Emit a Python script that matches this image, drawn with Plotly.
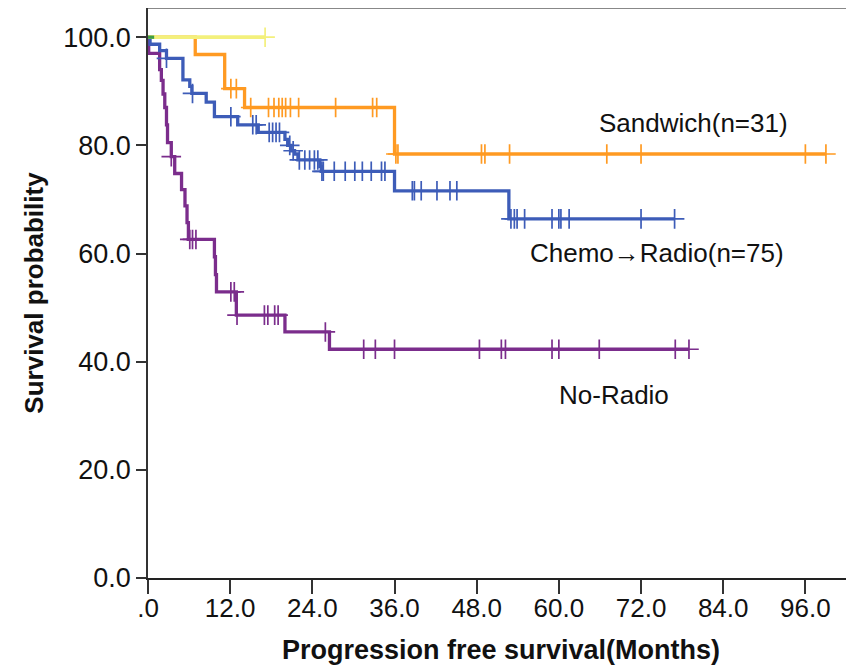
import numpy as np
import plotly.graph_objects as go

# ---------------- data ----------------
x_tick_vals = [0, 12, 24, 36, 48, 60, 72, 84, 96]
x_tick_text = [".0", "12.0", "24.0", "36.0", "48.0", "60.0", "72.0", "84.0", "96.0"]
y_tick_vals = [0, 20, 40, 60, 80, 100]
y_tick_text = ["0.0", "20.0", "40.0", "60.0", "80.0", "100.0"]

# Sandwich (orange)
sand_t = [0, 6.9, 11.2, 14.1, 36.0]
sand_s = [100, 96.8, 90.5, 87.0, 78.4]
sand_c = [12.1, 12.9, 15.0, 17.6, 18.4, 19.1, 19.6, 20.1, 20.8, 22.0, 27.4, 32.8,
          33.4, 36.2, 36.5, 48.7, 49.2, 52.8, 67.0, 72.0, 96.0, 99.0]

# Chemo -> Radio (blue)
chemo_t = [0, 0.3, 1.7, 2.7, 5.1, 6.1, 6.4, 8.5, 9.7, 13.1, 16.1, 20.0, 20.4, 20.9,
           21.4, 21.9, 25.1, 25.3, 36.0, 52.7]
chemo_s = [100, 98.7, 97.5, 96.1, 92.1, 90.9, 89.6, 88.0, 85.3, 83.8, 82.4, 81.1,
           80.0, 79.0, 78.4, 77.3, 76.1, 75.2, 71.6, 66.4]
chemo_c = [2.7, 6.5, 12.1, 15.3, 15.8, 17.7, 18.2, 18.7, 19.2, 20.7, 21.2, 22.1, 22.9,
           23.6, 24.3, 24.8, 25.4, 25.6, 27.2, 28.8, 30.2, 31.3, 32.6, 34.1, 34.6,
           38.6, 38.9, 39.9, 42.2, 44.1, 45.1, 53.0, 53.5, 53.9, 55.0, 59.0, 60.0,
           60.3, 61.5, 72.0, 76.9]

# No-Radio (purple)
norad_t = [0, 0.1, 1.7, 1.95, 2.2, 2.45, 2.7, 2.85, 3.4, 3.9, 4.9, 5.4, 5.7, 5.9,
           9.7, 9.85, 10.0, 12.9, 20.0, 26.5]
norad_s = [100, 97.0, 94.0, 92.0, 89.5, 87.0, 83.8, 80.5, 77.9, 74.8, 71.8, 68.8,
           65.7, 62.6, 59.4, 56.1, 52.9, 48.6, 45.5, 42.3]
norad_c = [3.4, 6.1, 6.5, 7.0, 12.1, 12.6, 13.0, 17.0, 17.5, 18.5, 19.0, 25.9, 31.5,
           33.2, 36.0, 48.4, 51.6, 52.2, 59.0, 60.0, 65.9, 77.0, 79.0]

# unlabeled group (yellow)
yel_t = [0]
yel_s = [100]
yel_c = [17.1]

# unlabeled group (green)
grn_t = [0]
grn_s = [100]
grn_end = 0.9

labels = ["Sandwich(n=31)", "Chemo\u2192Radio(n=75)", "No-Radio"]
label_x = [79.7, 74.3, 68.0]
label_y = [84.1, 60.1, 33.8]

# ---------------- helpers ----------------
def step_level(times, levels, t):
    idx = np.searchsorted(np.asarray(times), t, side="right") - 1
    return float(np.asarray(levels)[idx])


fig = go.Figure()


def add_km(times, levels, censors, color, width=3.3, end=None):
    last = max(censors) if censors else end
    if end is not None:
        last = end
    xs = list(times) + [last]
    ys = list(levels) + [levels[-1]]
    fig.add_trace(go.Scatter(x=xs, y=ys, mode="lines", line_shape="hv",
                             line=dict(color=color, width=width),
                             hoverinfo="skip", showlegend=False))
    if censors:
        cy = [step_level(times, levels, c) for c in censors]
        fig.add_trace(go.Scatter(x=censors, y=cy, mode="markers",
                                 marker=dict(symbol="cross-thin", size=14,
                                             line=dict(width=1.7, color=color)),
                                 hoverinfo="skip", showlegend=False))


PURPLE = "#7B2D8C"
BLUE = "#3D5CB8"
ORANGE = "#FF9A22"
YELLOW = "#F3F07C"
GREEN = "#3E9E45"

add_km(norad_t, norad_s, norad_c, PURPLE)
add_km(chemo_t, chemo_s, chemo_c, BLUE)
add_km(sand_t, sand_s, sand_c, ORANGE)
add_km(yel_t, yel_s, yel_c, YELLOW, width=3.8)
add_km(grn_t, grn_s, [], GREEN, end=grn_end)

for txt, lx, ly in zip(labels, label_x, label_y):
    fig.add_annotation(x=lx, y=ly, text=txt, showarrow=False,
                       font=dict(family="Liberation Sans, Arial", size=26, color="#111111"),
                       xanchor="center", yanchor="middle")

# top frame line
fig.add_shape(type="line", xref="paper", yref="paper", x0=0, x1=1, y0=1, y1=1,
              line=dict(color="#888888", width=2))

# the page body adds an 8px offset; the figure is sized/margined to compensate
fig.update_layout(
    width=846, height=662,
    margin=dict(l=140, r=0, t=0, b=92, autoexpand=False),
    paper_bgcolor="white", plot_bgcolor="white",
    font=dict(family="Liberation Sans, Arial", color="#111111"),
    xaxis=dict(range=[0, 103.1], tickvals=x_tick_vals, ticktext=x_tick_text,
               showgrid=False, zeroline=False, showline=True, linecolor="#222222",
               linewidth=1.5, ticks="outside", ticklen=14, tickwidth=1.5,
               tickcolor="#333333", tickfont=dict(size=26), ticklabelstandoff=-8,
               title=dict(text="<b>Progression free survival(Months)</b>",
                          font=dict(size=27), standoff=18)),
    yaxis=dict(range=[0, 105.4], tickvals=y_tick_vals, ticktext=y_tick_text,
               showgrid=False, zeroline=False, showline=True, linecolor="#333333",
               linewidth=1.5, ticks="outside", ticklen=10, tickwidth=1.5,
               tickcolor="#333333", tickfont=dict(size=27),
               title=dict(text="<b>Survival probability</b>",
                          font=dict(size=26), standoff=12)),
)

fig.write_html("out.html")
